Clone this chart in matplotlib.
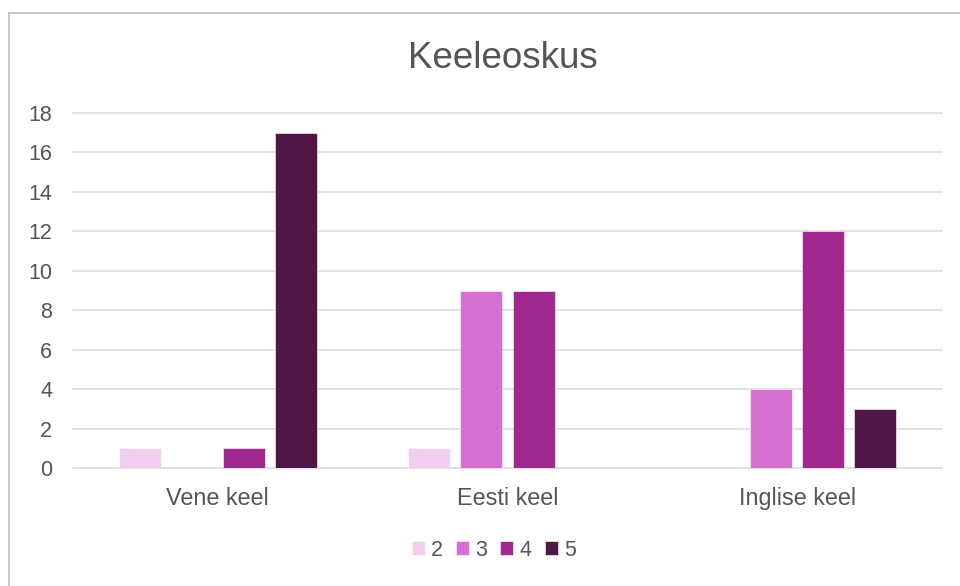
import matplotlib
matplotlib.use("Agg")
import matplotlib.pyplot as plt
import numpy as np

plt.rcParams["font.family"] = ["Liberation Sans", "DejaVu Sans"]

categories = ["Vene keel", "Eesti keel", "Inglise keel"]
series_names = ["2", "3", "4", "5"]
values_2 = [1, 1, 0]
values_3 = [0, 9, 4]
values_4 = [1, 9, 12]
values_5 = [17, 0, 3]
series_values = [values_2, values_3, values_4, values_5]
colors = ["#f1cdee", "#d56fd0", "#a0288f", "#4f1646"]
y_ticks = [0, 2, 4, 6, 8, 10, 12, 14, 16, 18]

W, H = 960, 586
fig = plt.figure(figsize=(W / 100, H / 100), dpi=100)
fig.patch.set_facecolor("white")

# outer border (top and left visible)
fig.add_artist(plt.Line2D([9 / W, 9 / W], [0, 1 - 13 / H], color="#bdbdbd", lw=1.2))
fig.add_artist(plt.Line2D([9 / W, 1], [1 - 13 / H, 1 - 13 / H], color="#bdbdbd", lw=1.2))

left, right, top, bottom = 73, 942, 113, 468
ax = fig.add_axes([left / W, 1 - bottom / H, (right - left) / W, (bottom - top) / H])
ax.set_xlim(-0.5, 2.5)
ax.set_ylim(0, 18)

x = np.arange(len(categories))
bar_w = 0.145
step = 0.18
offsets = (np.arange(4) - 1.5) * step
for i, (name, vals) in enumerate(zip(series_names, series_values)):
    ax.bar(x + offsets[i], vals, width=bar_w, color=colors[i], label=name,
           edgecolor="white", linewidth=0.4, zorder=3)

ax.set_yticks(y_ticks)
ax.set_yticklabels([str(t) for t in y_ticks])
ax.set_xticks(x)
ax.set_xticklabels(categories)
ax.yaxis.grid(True, color="#d9d9d9", lw=1.1, zorder=0)
for gl in ax.get_ygridlines():
    gl.set_clip_on(False)
ax.set_axisbelow(True)
for s in ax.spines.values():
    s.set_visible(False)
ax.tick_params(axis="both", length=0, labelcolor="#555555")
ax.tick_params(axis="y", pad=15, labelsize=15.5)
ax.tick_params(axis="x", pad=13.5, labelsize=16.8)

fig.text(503 / W, 1 - 58 / H, "Keeleoskus", ha="center", va="center",
         fontsize=26.5, color="#555555")

leg = fig.legend(loc="center", bbox_to_anchor=(494 / W, 1 - 550 / H), ncol=4,
                 frameon=False, fontsize=15.5, handlelength=0.6, handleheight=0.6,
                 handletextpad=0.3, columnspacing=0.6)
for t in leg.get_texts():
    t.set_color("#555555")

fig.savefig("out.png", dpi=100, facecolor="white")
